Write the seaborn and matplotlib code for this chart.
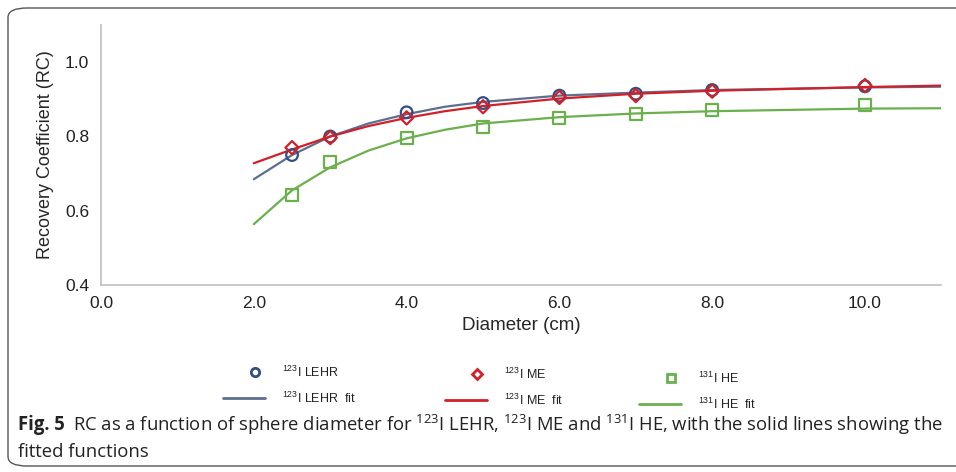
import numpy as np
import pandas as pd
import matplotlib
matplotlib.use("Agg")
import matplotlib.pyplot as plt
from matplotlib.patches import FancyBboxPatch
from matplotlib.lines import Line2D
import seaborn as sns

# --- datos medidos (RC por diametro de esfera) ---
diam = [2.5, 3.0, 4.0, 5.0, 6.0, 7.0, 8.0, 10.0]
rc_lehr = [0.750, 0.800, 0.865, 0.890, 0.910, 0.915, 0.925, 0.935]
rc_me = [0.770, 0.797, 0.850, 0.880, 0.905, 0.910, 0.922, 0.937]
rc_he = [0.643, 0.732, 0.797, 0.825, 0.850, 0.860, 0.872, 0.886]

# --- curvas ajustadas ---
diam_fit = [2.0, 2.5, 3.0, 3.5, 4.0, 4.5, 5.0, 6.0, 7.0, 8.0, 10.0, 11.0]
fit_lehr = [0.685, 0.750, 0.800, 0.835, 0.860, 0.880, 0.893, 0.910, 0.918, 0.925, 0.932, 0.934]
fit_me = [0.728, 0.765, 0.800, 0.828, 0.850, 0.868, 0.882, 0.902, 0.915, 0.923, 0.933, 0.937]
fit_he = [0.564, 0.655, 0.717, 0.762, 0.795, 0.818, 0.835, 0.852, 0.862, 0.868, 0.875, 0.876]

xticks = [0.0, 2.0, 4.0, 6.0, 8.0, 10.0]
yticks = [0.4, 0.6, 0.8, 1.0]

series_labels = ["$^{123}$I LEHR", "$^{123}$I ME", "$^{131}$I HE"]
fit_labels = ["$^{123}$I LEHR  fit", "$^{123}$I ME  fit", "$^{131}$I HE  fit"]

col_lehr = "#2f4f86"
col_lehr_fit = "#5c6f8f"
col_me = "#d0202a"
col_he = "#6ab04c"

sns.set_style("white")
plt.rcParams["font.family"] = ["Liberation Sans", "DejaVu Sans"]
plt.rcParams["mathtext.default"] = "regular"

fig = plt.figure(figsize=(9.56, 4.72), dpi=100)
ax = fig.add_axes([0.1057, 0.396, 0.879, 0.551])

df = pd.DataFrame({"d": diam, "lehr": rc_lehr, "me": rc_me, "he": rc_he})
dfit = pd.DataFrame({"d": diam_fit, "lehr": fit_lehr, "me": fit_me, "he": fit_he})

sns.lineplot(data=dfit, x="d", y="lehr", ax=ax, color=col_lehr_fit, lw=1.6)
sns.lineplot(data=dfit, x="d", y="me", ax=ax, color=col_me, lw=1.6)
sns.lineplot(data=dfit, x="d", y="he", ax=ax, color=col_he, lw=1.6)

sns.scatterplot(data=df, x="d", y="lehr", ax=ax, marker="o", s=70,
                facecolor="none", edgecolor=col_lehr, linewidth=1.6, zorder=5)
sns.scatterplot(data=df, x="d", y="me", ax=ax, marker="D", s=45,
                facecolor="none", edgecolor=col_me, linewidth=1.6, zorder=6)
sns.scatterplot(data=df, x="d", y="he", ax=ax, marker="s", s=75,
                facecolor="none", edgecolor=col_he, linewidth=1.6, zorder=4)

ax.set_xlim(0, 11)
ax.set_ylim(0.4, 1.1)
ax.set_xticks(xticks)
ax.set_yticks(yticks)
ax.set_xticklabels([f"{t:.1f}" for t in xticks])
ax.set_yticklabels([f"{t:.1f}" for t in yticks])
ax.set_xlabel("Diameter (cm)", fontsize=13.5, labelpad=4)
ax.set_ylabel("Recovery Coefficient (RC)", fontsize=13, labelpad=8)
ax.tick_params(axis="both", labelsize=12.5, colors="#222222",
               length=5, width=1, direction="out", color="#bfbfbf")
ax.tick_params(axis="x", direction="inout", length=10, pad=3)
sns.despine(ax=ax)
for s in ["left", "bottom"]:
    ax.spines[s].set_color("#bfbfbf")
    ax.spines[s].set_linewidth(1.2)

# leyenda dibujada a mano (estilo Excel: marcador desplazado a la derecha)
W, H = 956, 472
leg_cols = [(223, 372), (445, 374), (639, 378)]  # inicio de linea, y de fila 1
markers = [("o", 6, col_lehr), ("D", 5, col_me), ("s", 6, col_he)]
fit_cols = [col_lehr_fit, col_me, col_he]
for (x0, y0), (m, ms, mc), fc, lab, flab in zip(leg_cols, markers, fit_cols,
                                                series_labels, fit_labels):
    fig.add_artist(Line2D([(x0 + 32) / W], [1 - y0 / H], ls="none", marker=m,
                          ms=ms, mfc="none", mec=mc, mew=2,
                          transform=fig.transFigure))
    fig.add_artist(Line2D([x0 / W, (x0 + 42) / W], [1 - (y0 + 26) / H] * 2,
                          color=fc, lw=2, transform=fig.transFigure))
    fig.text((x0 + 59) / W, 1 - y0 / H, lab, fontsize=9, va="center", color="#222222")
    fig.text((x0 + 59) / W, 1 - (y0 + 26) / H, flab, fontsize=9, va="center",
             color="#222222")

# recuadro y pie de figura
box = FancyBboxPatch((8 / W, 6 / H), 1.2, 458 / H, transform=fig.transFigure,
                     boxstyle="round,pad=0,rounding_size=0.02", fill=False,
                     ec="#555555", lw=1.0, clip_on=False)
fig.patches.append(box)

cap_font = ["Open Sans", "DejaVu Sans"]
cap_main = ("RC as a function of sphere diameter for $^{123}$I LEHR, $^{123}$I ME and "
            "$^{131}$I HE, with the solid lines showing the")
renderer = fig.canvas.get_renderer()
t_fig = fig.text(18 / W, 1 - 425 / H, "Fig. 5", fontsize=12, fontweight="bold",
                 family=cap_font, va="center", color="#222222")
fig_end = t_fig.get_window_extent(renderer).x1
t_main = fig.text((fig_end + 8) / W, 1 - 425 / H, cap_main, fontsize=12,
                  family=cap_font, va="center", color="#222222")
# ajustar tamano para que la linea termine donde en la figura original
width = t_main.get_window_extent(renderer).width
size = 12 * (938 - fig_end - 8) / width
t_main.set_fontsize(size)
t_fig.set_fontsize(size)
fig_end = t_fig.get_window_extent(renderer).x1
t_main.set_x((fig_end + 8) / W)
fig.text(18 / W, 1 - 452 / H, "fitted functions", fontsize=size,
         family=cap_font, va="center", color="#222222")

fig.savefig("out.png", dpi=100)
